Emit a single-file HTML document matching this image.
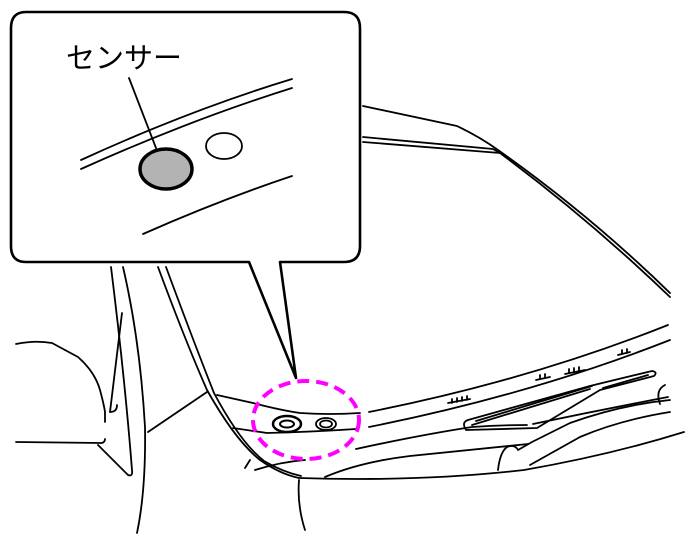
<!DOCTYPE html>
<html><head><meta charset="utf-8"><style>
html,body{margin:0;padding:0;background:#fff;width:685px;height:555px;overflow:hidden}
svg{display:block}
</style></head><body>
<svg width="685" height="555" viewBox="0 0 685 555" xmlns="http://www.w3.org/2000/svg" fill="none" stroke="#000" stroke-width="1.8" stroke-linecap="round" stroke-linejoin="round">
<!-- windshield top -->
<path d="M363 106 L457 126 Q480 137 498 150 Q590 215 670 293"/>
<path d="M363 137 L493 149 L500 153"/>
<path d="M363 142 L500 153 Q590 220 670 297"/>
<!-- pillars left -->
<path d="M111 267 Q125 380 132 470 Q133 477 128 475 L98 445"/>
<path d="M123 267 Q140 340 145 427 Q146 490 137 533"/>
<path d="M110 412 L122 313"/>
<path d="M110 412 Q117 412 117 405"/>
<path d="M148 432 L207 392"/>
<!-- mirror -->
<path d="M16 344 Q35 340 52 343 L78 357 Q95 372 100 390 Q104 405 105 412 L105 422"/>
<path d="M16 442 L102 443 Q105 442 105 439"/>
<!-- A pillar -->
<path d="M158 267 Q185 340 207 390 Q235 440 260 460 Q280 474 299 478"/>
<path d="M166 267 Q193 340 214 393 Q240 442 264 461 Q283 472 301 476"/>
<!-- cowl lines -->
<path d="M217 395 L253 403 Q280 410 300 413 Q330 415 360 413"/>
<path d="M369 412 Q530 380 668 325"/>
<path d="M233 428 L267 433 Q310 432 356 429"/>
<path d="M369 427 Q530 395 670 340"/>
<path d="M356 449 Q420 435 472 427 Q500 425 527 425"/>
<path d="M533 424 Q600 410 668 397"/>
<path d="M299 478 Q420 482 524 470 Q610 455 684 432"/>
<path d="M299 480 Q297 505 305 530"/>
<path d="M245 468 L250 460 M255 470 Q280 462 305 460"/>
<path d="M325 477 Q360 462 410 456 Q470 450 528 444"/>
<path d="M498 470 Q500 452 507 447 Q515 444 518 450 Q525 446 532 442 L570 423 Q620 405 670 400"/>
<path d="M530 465 L580 437 Q620 420 670 412"/>
<path d="M660 404 Q655 390 665 385"/>
<!-- ticks -->
<path d="M448 403 L470 399 M452 403 L452 399 M457 402 L457 398 M462 401 L462 397 M467 400 L467 396"/>
<path d="M536 380 L550 377 M540 379 L540 375 M545 378 L545 374"/>
<path d="M565 374 L585 370 M569 373 L569 369 M574 372 L574 368 M579 371 L579 367"/>
<path d="M618 355 L630 352 M622 354 L622 350 M627 353 L627 349"/>
<!-- wiper -->
<path d="M465 428 Q462 422 468 420 L590 386 L598 384 L652 371 Q658 372 654 376 L600 390 L537 428 L466 430 Z"/>
<path d="M472 425 L590 389 M476 421 L592 386 M603 388 L648 375"/>
<!-- callout -->
<path d="M26 12 H344 Q360 12 360 28 V246 Q360 262 344 262 H280 L296 378 L249 262 H26 Q11 262 11 246 V28 Q11 12 26 12 Z" fill="#fff" stroke-width="2.6"/>
<path d="M81 160 Q190 110 292 79"/>
<path d="M81 169 Q190 120 292 88"/>
<path d="M143 234 Q220 200 292 176"/>
<path d="M129 78 L156 148"/>
<ellipse cx="166" cy="169" rx="26" ry="20" fill="#b3b3b3" stroke-width="3.5"/>
<ellipse cx="224" cy="146" rx="18" ry="13"/>
<text x="66" y="68" font-family="'Liberation Sans','Noto Sans CJK JP',sans-serif" font-size="29" fill="#000" stroke="none">センサー</text>
<!-- sensors -->
<ellipse cx="287" cy="424" rx="14" ry="8" stroke-width="2.5"/>
<ellipse cx="287" cy="424" rx="7" ry="3.5" stroke-width="2"/>
<ellipse cx="326" cy="424" rx="10" ry="6"/>
<ellipse cx="326" cy="424" rx="6" ry="3.5"/>
<!-- dashed circle -->
<ellipse cx="306" cy="420" rx="53" ry="39" stroke="#ff00ff" stroke-width="4" stroke-dasharray="12 7" stroke-linecap="butt"/>
</svg>
</body></html>
